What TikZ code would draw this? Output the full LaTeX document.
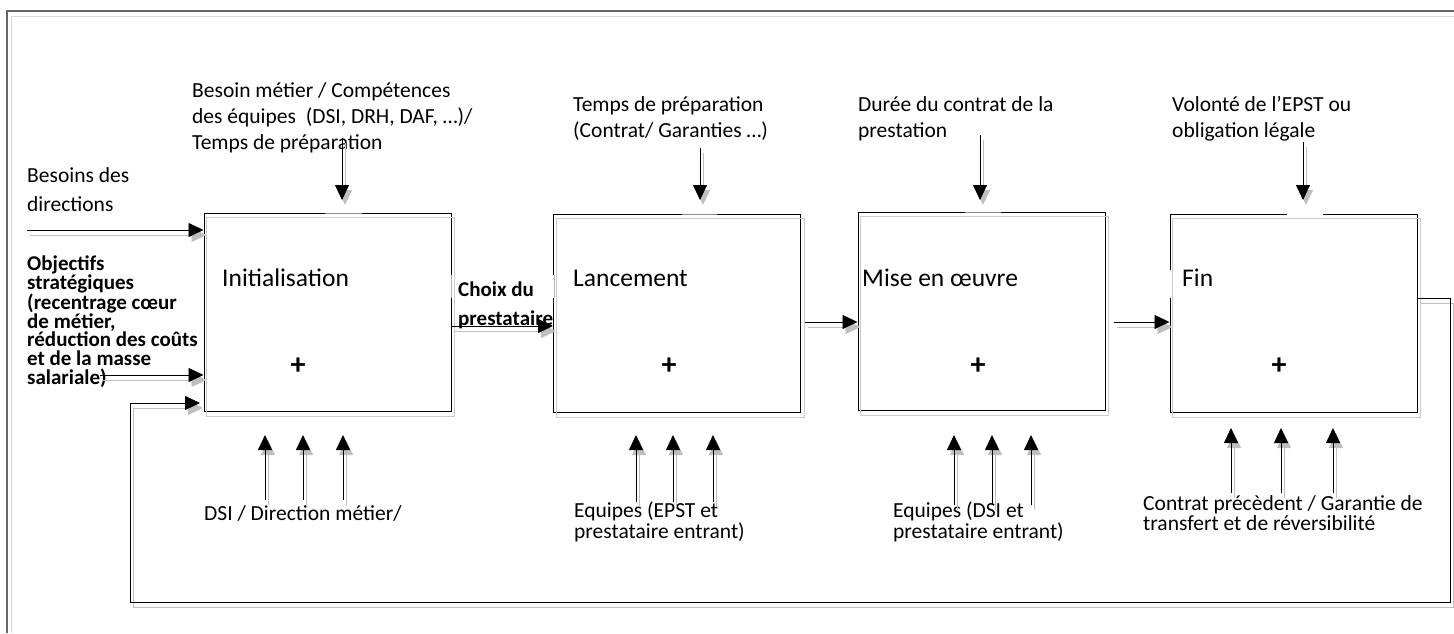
\documentclass[tikz,border=0pt]{standalone}
\usepackage{fontspec}
\setmainfont{Carlito}
\usetikzlibrary{arrows.meta}
\tikzset{
 procbox/.style={draw=black, line width=1pt, minimum width=247pt, minimum height=198pt, inner sep=0pt},
 boxshadow/.style={draw=black!20, line width=1pt},
 flow/.style={draw=black, line width=0.8pt, -{Triangle[length=15pt,width=14pt]}},
 flowsh/.style={draw=black!25, line width=0.8pt, -{Triangle[length=15pt,width=14pt]}, transform canvas={shift={(3,5)}}},
 toplab/.style={inner sep=0pt, align=left, anchor=base west, font=\fontsize{21.5}{26}\selectfont},
 sidelab/.style={inner sep=0pt, align=left, anchor=base west, font=\fontsize{21.5}{29}\selectfont},
 boldlab/.style={inner sep=0pt, align=left, anchor=base west, font=\fontsize{21}{18.6}\selectfont\bfseries},
 choixlab/.style={inner sep=0pt, align=left, anchor=base west, font=\fontsize{21}{29}\selectfont\bfseries},
 botlab/.style={inner sep=0pt, align=left, anchor=base west, font=\fontsize{21.5}{18}\selectfont},
 boxlab/.style={inner sep=0pt, anchor=base west, font=\fontsize{25.5}{30}\selectfont},
 plus/.style={inner sep=0pt, font=\fontsize{30}{30}\selectfont\bfseries},
 frameline/.style={draw=black!60, line width=1.2pt},
 frameshadow/.style={draw=black!15, line width=1pt},
}
\newcommand{\sconn}[1]{\draw[flowsh] #1; \draw[flow] #1;}
\begin{document}
\begin{tikzpicture}[x=1pt,y=-1pt]
\useasboundingbox (0,0) rectangle (1454,633);
% outer frame
\draw[frameshadow] (11,633) -- (11,16) -- (1454,16);
\draw[frameline] (7,633) -- (7,11) -- (1454,11);

% process boxes
\node[procbox] (init) at (327.5,312) {};
\node[procbox] (lanc) at (677,313) {};
\node[procbox] (mise) at (981.5,311) {};
\node[procbox] (fin)  at (1293.5,313) {};
\foreach \b in {init,lanc,mise,fin}{
  \draw[boxshadow] ([shift={(3,5)}]\b.south west) rectangle ([shift={(3,5)}]\b.north east);
}
% lighter segments on the top edges and gaps on the side edges
\draw[white, line width=1.6pt] (325,213) -- (362,213);
\draw[black!45, line width=0.8pt] (325,213) -- (362,213);
\draw[white, line width=1.6pt] (682,214) -- (717,214);
\draw[black!45, line width=0.8pt] (682,214) -- (717,214);
\draw[white, line width=1.6pt] (965,212) -- (1001,212);
\draw[black!45, line width=0.8pt] (965,212) -- (1001,212);
\draw[white, line width=1.6pt] (1287,214) -- (1323,214);
\draw[white, line width=1.6pt] (1170,270) -- (1170,298);
\draw[white, line width=1.6pt] (451,275) -- (451,298);
\draw[black!30, line width=0.8pt] (451,275) -- (451,298);
\draw[white, line width=1.6pt] (554,275) -- (554,298);
\draw[black!30, line width=0.8pt] (554,275) -- (554,298);

% box titles
\node[boxlab] (tinit) at (222,286) {Initialisation};
\node[boxlab] (tlanc) at (573,286) {Lancement};
\node[boxlab] (tmise) at (862,286) {Mise en œuvre};
\node[boxlab] (tfin)  at (1182,286) {Fin};
\node[plus] (pinit) at (298,366) {+};
\node[plus] (plan)  at (669,366) {+};
\node[plus] (pmise) at (978,366) {+};
\node[plus] (pfin)  at (1279,366) {+};

% top labels (anchor = baseline of the last line)
\node[toplab] (cinit) at (192,149) {Besoin métier / Compétences\\des équipes \ (DSI, DRH, DAF, …)/\\Temps de préparation};
\node[toplab] (clanc) at (573,137) {Temps de préparation\\(Contrat/ Garanties …)};
\node[toplab] (cmise) at (858,137) {Durée du contrat de la\\prestation};
\node[toplab] (cfin)  at (1172,137) {Volonté de l’EPST ou\\obligation légale};

% left labels
\node[sidelab] (ibes) at (27,211) {Besoins des\\directions};
\node[boldlab] (iobj) at (27,384) {Objectifs\\stratégiques\\(recentrage cœur\\de métier,\\réduction des coûts\\et de la masse\\salariale)};
\node[choixlab] (ochoix) at (458,325) {Choix du\\prestataire};

% bottom labels
\node[botlab] (minit) at (204,520) {DSI / Direction métier/};
\node[botlab] (mlanc) at (574,538) {Equipes (EPST et\\prestataire entrant)};
\node[botlab] (mmise) at (893,538) {Equipes (DSI et\\prestataire entrant)};
\node[botlab] (mfin)  at (1143,530) {Contrat précèdent / Garantie de\\transfert et de réversibilité};

% coordinates of free ends
\coordinate (ct1s) at (342,138); \coordinate (ct1e) at (342,200);
\coordinate (ct2s) at (700,148); \coordinate (ct2e) at (700,200);
\coordinate (ct3s) at (980,135); \coordinate (ct3e) at (980,200);
\coordinate (ct4s) at (1303,142); \coordinate (ct4e) at (1303,200);
\coordinate (in1) at (27,230);
\coordinate (in2) at (100,375);
\coordinate (o2s) at (805,322);
\coordinate (o3s) at (1114,322);
\coordinate (loopA) at (1450,298);
\coordinate (loopB) at (1450,602);
\coordinate (loopC) at (130,602);
\coordinate (loopD) at (130,403);
\coordinate (loopE) at (200,403);

% control arrows
\sconn{(ct1s) -- (ct1e)}
\sconn{(ct2s) -- (ct2e)}
\sconn{(ct3s) -- (ct3e)}
\sconn{(ct4s) -- (ct4e)}

% inputs
\sconn{(in1) -- (init.west |- in1)}
\sconn{(in2) -- (init.west |- in2)}

% flows between boxes
\sconn{(init.east |- 0,326) -- (lanc.west |- 0,326)}
\sconn{(o2s) -- (mise.west |- o2s)}
\sconn{(o3s) -- (fin.west |- o3s)}

% feedback loop
\sconn{(fin.east |- loopA) -- (loopA) -- (loopB) -- (loopC) -- (loopD) -- (loopE)}

% mechanism arrows
\foreach \x/\s/\t in {265/500/435, 303/500/435, 343/500/435,
                      636/502/435, 673/502/435, 713/502/435,
                      954/505/435, 992/505/435, 1031/505/435,
                      1231/493/428, 1281/493/428, 1333/493/428}{
  \coordinate (ms) at (\x,\s); \coordinate (me) at (\x,\t);
  \sconn{(ms) -- (me)}
}
\end{tikzpicture}
\end{document}
